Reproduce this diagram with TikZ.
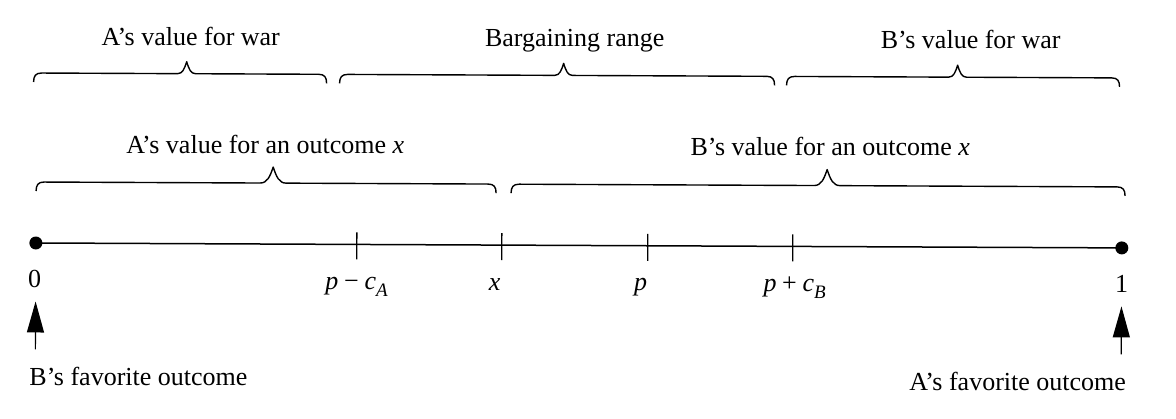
\documentclass[tikz,border=0pt]{standalone}
\usepackage{fontspec}
\setmainfont{Liberation Serif}
\usetikzlibrary{arrows.meta}
\newcommand\mysub[1]{\raisebox{-0.28em}{\fontsize{19}{20}\selectfont\textit{#1}}}
% brace: x0, x1, tip x, flat y, tip height, tip half width
\newcommand\mybrace[6]{%
  \draw[brcline] (#1,#4+9) .. controls (#1,#4+3) and (#1+2,#4) .. (#1+8,#4)
    -- (#3-#6,#4) .. controls (#3-0.45*#6,#4) and (#3-0.25*#6,#4-0.4*#5) .. (#3,#4-#5)
    .. controls (#3+0.25*#6,#4-0.4*#5) and (#3+0.45*#6,#4) .. (#3+#6,#4)
    -- (#2-8,#4) .. controls (#2-2,#4) and (#2,#4+3) .. (#2,#4+9);}
\begin{document}
\begin{tikzpicture}[x=1pt,y=-1pt,
  lbl/.style={anchor=base,inner sep=0pt,font=\fontsize{26}{30}\selectfont},
  brcline/.style={line width=1.4pt,line join=round},
  dot/.style={circle,fill=black,inner sep=0pt,minimum size=13pt},
  tickmark/.style={line width=1.3pt},
  axisline/.style={line width=1.5pt},
  arr/.style={line width=1.2pt,-{Triangle[length=31pt,width=17pt]}}]
\useasboundingbox (0,0) rectangle (1176,418);
\begin{scope}[rotate around={-0.26:(588,209)}]
% top braces
\mybrace{33}{326}{186}{75.5}{12}{9}
\mybrace{339}{774}{563}{75.5}{12}{9}
\mybrace{786}{1119}{957}{75.5}{12}{9}
\node[lbl] (lAwar) at (190,47) {A’s value for war};
\node[lbl] (lbarg) at (574,47) {Bargaining range};
\node[lbl] (lBwar) at (970,47) {B’s value for war};
% second braces
\mybrace{36}{496}{273}{184.5}{16}{13}
\mybrace{511}{1125}{827}{184.5}{16}{13}
\node[lbl] (lAout) at (265,154.5) {A’s value for an outcome \textit{x}};
\node[lbl] (lBout) at (830,154.5) {B’s value for an outcome \textit{x}};
% axis
\node[dot] (d0) at (36,245.5) {};
\node[dot] (d1) at (1122,245.5) {};
\draw[axisline] (d0.center) -- (d1.center);
\coordinate (t1) at (357,245.5);
\coordinate (t2) at (502,245.5);
\coordinate (t3) at (648,245.5);
\coordinate (t4) at (793,245.5);
\foreach \t in {t1,t2,t3,t4}{\draw[tickmark] (\t) ++(0,-12) -- ++(0,27);}
% tick labels
\node[lbl] (l0) at (35,290.5) {0};
\node[lbl] (l1) at (357,290.5) {\textit{p}\hspace{0.22em}−\hspace{0.22em}\textit{c}\mysub{A}};
\node[lbl] (l2) at (495,290.5) {\textit{x}};
\node[lbl] (l3) at (641,290.5) {\textit{p}};
\node[lbl] (l4) at (795,290.5) {\textit{p}\hspace{0.22em}+\hspace{0.22em}\textit{c}\mysub{B}};
\node[lbl] (l5) at (1122,290.5) {1};
% arrows
\coordinate (a0t) at (36,304);   \coordinate (a0b) at (36,352);
\coordinate (a1t) at (1122,304); \coordinate (a1b) at (1122,352);
\draw[arr] (a0b) -- (a0t);
\draw[arr] (a1b) -- (a1t);
\node[lbl,anchor=base west] (fB) at (30,388.5) {B’s favorite outcome};
\node[lbl,anchor=base east] (fA) at (1127,388.5) {A’s favorite outcome};
\end{scope}
\end{tikzpicture}
\end{document}
